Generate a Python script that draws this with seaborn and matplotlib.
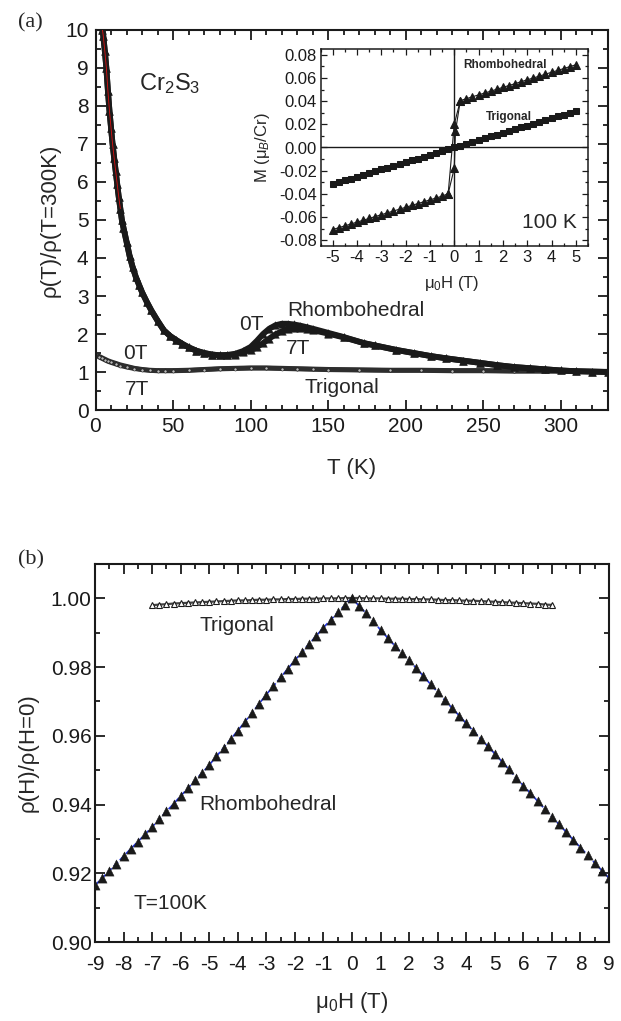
import numpy as np
import pandas as pd
import matplotlib
matplotlib.use("Agg")
import matplotlib.pyplot as plt
from matplotlib.ticker import MultipleLocator, FormatStrFormatter
import seaborn as sns

# ---------------- data ----------------
# (a) rho(T)/rho(300K), Rhombohedral
rh_T = [4.5, 5, 6, 7, 8, 9, 10, 11, 12, 13, 14, 15, 16, 17, 18, 20, 22, 24, 26, 28, 30,
        33, 36, 40, 44, 48, 52, 56, 60, 65, 70, 75, 80, 85, 90, 95, 100, 104, 108, 112,
        116, 120, 124, 128, 132, 136, 140, 150, 160, 173, 180, 194, 205, 216, 226, 237,
        248, 259, 270, 280, 290, 300, 310, 320, 330]
rh_0T = [10.0, 9.85, 9.45, 9.0, 8.4, 7.87, 7.43, 7.0, 6.64, 6.29, 5.94, 5.6, 5.3, 5.0,
         4.8, 4.43, 4.05, 3.75, 3.5, 3.3, 3.1, 2.85, 2.62, 2.35, 2.1, 1.95, 1.84, 1.74,
         1.65, 1.56, 1.5, 1.46, 1.44, 1.45, 1.48, 1.55, 1.66, 1.82, 2.0, 2.14, 2.23, 2.27,
         2.27, 2.25, 2.22, 2.18, 2.14, 2.03, 1.92, 1.76, 1.70, 1.58, 1.50, 1.42, 1.36,
         1.30, 1.24, 1.18, 1.13, 1.10, 1.07, 1.04, 1.02, 1.01, 1.00]
rh_7T = [10.0, 9.85, 9.45, 9.0, 8.4, 7.87, 7.43, 7.0, 6.64, 6.29, 5.94, 5.6, 5.3, 5.0,
         4.8, 4.43, 4.05, 3.75, 3.5, 3.3, 3.1, 2.85, 2.62, 2.35, 2.1, 1.95, 1.84, 1.74,
         1.65, 1.56, 1.5, 1.46, 1.44, 1.44, 1.46, 1.52, 1.58, 1.66, 1.76, 1.88, 1.99, 2.07,
         2.13, 2.15, 2.15, 2.13, 2.10, 2.01, 1.91, 1.76, 1.70, 1.58, 1.50, 1.42, 1.36,
         1.30, 1.24, 1.18, 1.13, 1.10, 1.07, 1.04, 1.02, 1.01, 1.00]
# (a) Trigonal
tg_T = [2, 4, 6, 8, 10, 13, 16, 20, 25, 30, 35, 40, 45, 50, 60, 70, 80, 90, 100, 110,
        120, 130, 140, 150, 170, 190, 210, 230, 250, 270, 290, 310, 330]
tg_0T = [1.42, 1.38, 1.34, 1.30, 1.27, 1.23, 1.19, 1.15, 1.10, 1.07, 1.05, 1.04, 1.04,
         1.04, 1.05, 1.07, 1.09, 1.10, 1.11, 1.11, 1.10, 1.09, 1.08, 1.07, 1.06, 1.05,
         1.05, 1.04, 1.04, 1.03, 1.03, 1.02, 1.02]
tg_7T = [1.40, 1.36, 1.32, 1.28, 1.25, 1.21, 1.17, 1.13, 1.09, 1.06, 1.04, 1.03, 1.03,
         1.03, 1.04, 1.06, 1.08, 1.09, 1.10, 1.10, 1.09, 1.08, 1.07, 1.06, 1.05, 1.04,
         1.04, 1.03, 1.03, 1.02, 1.02, 1.02, 1.01]

# inset: M(H) at 100 K
in_H_tg = [-5.0, -4.75, -4.5, -4.25, -4.0, -3.75, -3.5, -3.25, -3.0, -2.75, -2.5, -2.25,
           -2.0, -1.75, -1.5, -1.25, -1.0, -0.75, -0.5, -0.25, 0.0, 0.25, 0.5, 0.75, 1.0,
           1.25, 1.5, 1.75, 2.0, 2.25, 2.5, 2.75, 3.0, 3.25, 3.5, 3.75, 4.0, 4.25, 4.5,
           4.75, 5.0]
in_M_tg = [-0.0315, -0.0299, -0.0284, -0.0268, -0.0252, -0.0236, -0.0221, -0.0205,
           -0.0189, -0.0173, -0.0158, -0.0142, -0.0126, -0.0110, -0.0095, -0.0079,
           -0.0063, -0.0047, -0.0032, -0.0016, 0.0, 0.0016, 0.0032, 0.0047, 0.0063,
           0.0079, 0.0095, 0.0110, 0.0126, 0.0142, 0.0158, 0.0173, 0.0189, 0.0205,
           0.0221, 0.0236, 0.0252, 0.0268, 0.0284, 0.0299, 0.0315]
in_H_rh_up = [-5.0, -4.75, -4.5, -4.25, -4.0, -3.75, -3.5, -3.25, -3.0, -2.75, -2.5,
              -2.25, -2.0, -1.75, -1.5, -1.25, -1.0, -0.75, -0.5, -0.25, 0.0, 0.05, 0.25,
              0.5, 0.75, 1.0, 1.25, 1.5, 1.75, 2.0, 2.25, 2.5, 2.75, 3.0, 3.25, 3.5, 3.75,
              4.0, 4.25, 4.5, 4.75, 5.0]
in_M_rh_up = [-0.0708, -0.0692, -0.0676, -0.0660, -0.0644, -0.0628, -0.0612, -0.0596,
              -0.0580, -0.0564, -0.0548, -0.0532, -0.0516, -0.0500, -0.0484, -0.0468,
              -0.0452, -0.0436, -0.0420, -0.0398, -0.0180, 0.0140, 0.0405, 0.0421,
              0.0438, 0.0454, 0.0470, 0.0486, 0.0503, 0.0519, 0.0535, 0.0551, 0.0568,
              0.0584, 0.0600, 0.0616, 0.0633, 0.0649, 0.0665, 0.0681, 0.0698, 0.0714]
in_H_rh_dn = [0.25, 0.0, -0.25]
in_M_rh_dn = [0.0405, 0.0200, -0.0398]

# (b) rho(H)/rho(0) at 100 K
rb_H = [-9.0, -8.75, -8.5, -8.25, -8.0, -7.75, -7.5, -7.25, -7.0, -6.75, -6.5, -6.25,
        -6.0, -5.75, -5.5, -5.25, -5.0, -4.75, -4.5, -4.25, -4.0, -3.75, -3.5, -3.25,
        -3.0, -2.75, -2.5, -2.25, -2.0, -1.75, -1.5, -1.25, -1.0, -0.75, -0.5, -0.25,
        0.0, 0.25, 0.5, 0.75, 1.0, 1.25, 1.5, 1.75, 2.0, 2.25, 2.5, 2.75, 3.0, 3.25, 3.5,
        3.75, 4.0, 4.25, 4.5, 4.75, 5.0, 5.25, 5.5, 5.75, 6.0, 6.25, 6.5, 6.75, 7.0, 7.25,
        7.5, 7.75, 8.0, 8.25, 8.5, 8.75, 9.0]
rb_R = [0.9165, 0.9186, 0.9207, 0.9228, 0.9250, 0.9271, 0.9292, 0.9313, 0.9335, 0.9357,
        0.9380, 0.9402, 0.9425, 0.9447, 0.9470, 0.9492, 0.9515, 0.9540, 0.9565, 0.9590,
        0.9615, 0.9641, 0.9667, 0.9694, 0.9720, 0.9745, 0.9770, 0.9795, 0.9820, 0.9844,
        0.9868, 0.9891, 0.9915, 0.9937, 0.9959, 0.9980, 1.0000, 0.9978, 0.9956, 0.9933,
        0.9908, 0.9885, 0.9862, 0.9840, 0.9820, 0.9797, 0.9774, 0.9750, 0.9727, 0.9704,
        0.9681, 0.9659, 0.9636, 0.9614, 0.9592, 0.9570, 0.9548, 0.9525, 0.9502, 0.9478,
        0.9455, 0.9433, 0.9410, 0.9387, 0.9365, 0.9342, 0.9320, 0.9297, 0.9275, 0.9253,
        0.9230, 0.9208, 0.9186]
tb_H = [-7.0, -6.75, -6.5, -6.25, -6.0, -5.75, -5.5, -5.25, -5.0, -4.75, -4.5, -4.25,
        -4.0, -3.75, -3.5, -3.25, -3.0, -2.75, -2.5, -2.25, -2.0, -1.75, -1.5, -1.25,
        -1.0, -0.75, -0.5, -0.25, 0.0, 0.25, 0.5, 0.75, 1.0, 1.25, 1.5, 1.75, 2.0, 2.25,
        2.5, 2.75, 3.0, 3.25, 3.5, 3.75, 4.0, 4.25, 4.5, 4.75, 5.0, 5.25, 5.5, 5.75, 6.0,
        6.25, 6.5, 6.75, 7.0]
tb_R = [0.9980, 0.9982, 0.9983, 0.9985, 0.9986, 0.9987, 0.9988, 0.9989, 0.9990, 0.9991,
        0.9992, 0.9993, 0.9994, 0.9994, 0.9995, 0.9996, 0.9996, 0.9997, 0.9997, 0.9998,
        0.9998, 0.9999, 0.9999, 0.9999, 1.0000, 1.0000, 1.0000, 1.0001, 1.0001, 1.0001,
        1.0000, 1.0000, 1.0000, 0.9999, 0.9999, 0.9999, 0.9998, 0.9998, 0.9997, 0.9997,
        0.9996, 0.9995, 0.9995, 0.9994, 0.9993, 0.9993, 0.9992, 0.9991, 0.9990, 0.9989,
        0.9988, 0.9987, 0.9986, 0.9985, 0.9984, 0.9982, 0.9981]

# ---------------- style ----------------
sns.set_theme(style="ticks")
plt.rcParams["font.family"] = ["Liberation Sans", "DejaVu Sans"]
plt.rcParams["mathtext.fontset"] = "custom"
plt.rcParams["mathtext.rm"] = "Liberation Sans"
plt.rcParams["mathtext.it"] = "Liberation Sans:italic"
plt.rcParams["axes.linewidth"] = 1.5

W, H = 621, 1021
fig = plt.figure(figsize=(W / 100, H / 100), dpi=100)


def frac(l, r, t, b):
    return [l / W, 1 - b / H, (r - l) / W, (b - t) / H]


def style_ticks(ax, size, lmaj, lmin, width):
    ax.tick_params(which="both", direction="in", top=True, right=True,
                   labelsize=size, width=width, colors="k")
    ax.tick_params(which="major", length=lmaj)
    ax.tick_params(which="minor", length=lmin)
    for s in ax.spines.values():
        s.set_color("k")


# ---------------- panel (a) ----------------
ax1 = fig.add_axes(frac(95.5, 607.5, 30, 410))
d_rh = pd.DataFrame({"T": rh_T, "r0": rh_0T, "r7": rh_7T})
d_tg = pd.DataFrame({"T": tg_T, "r0": tg_0T, "r7": tg_7T})

for col in ["r0", "r7"]:
    sns.lineplot(data=d_tg, x="T", y=col, ax=ax1, color="#2e2e2e", lw=3.4,
                 estimator=None, sort=False, marker="o", markersize=2.2,
                 markerfacecolor="#bbbbbb", markeredgecolor="#222222",
                 markeredgewidth=0.4)
for col in ["r7", "r0"]:
    sns.lineplot(data=d_rh, x="T", y=col, ax=ax1, color="k", lw=4.2,
                 estimator=None, sort=False)
    sns.scatterplot(data=d_rh, x="T", y=col, ax=ax1, marker="^", s=30,
                    color="k", edgecolor="k", linewidth=0.3, zorder=3)
sns.lineplot(data=d_rh.iloc[:13], x="T", y="r0", ax=ax1, color="#dd1111", lw=0.6,
             estimator=None, sort=False, zorder=4)

ax1.set_xlim(0, 330)
ax1.set_ylim(0, 10)
ax1.xaxis.set_major_locator(MultipleLocator(50))
ax1.xaxis.set_minor_locator(MultipleLocator(10))
ax1.yaxis.set_major_locator(MultipleLocator(1))
ax1.yaxis.set_minor_locator(MultipleLocator(0.5))
style_ticks(ax1, 15, 7, 3.5, 1.3)
ax1.tick_params(axis="x", pad=5)
ax1.tick_params(axis="y", pad=5)
ax1.set_xlabel("T (K)", fontsize=16)
ax1.set_ylabel("ρ(T)/ρ(T=300K)", fontsize=16)
ax1.xaxis.label.set_verticalalignment("center")
ax1.yaxis.label.set_verticalalignment("center")
ax1.xaxis.set_label_coords(0.5, -0.153)
ax1.yaxis.set_label_coords(-0.089, 0.5)

ax1.text(48, 8.6, "Cr$_2$S$_3$", fontsize=17, ha="center", va="center")
ax1.text(167.6, 2.63, "Rhombohedral", fontsize=15, ha="center", va="center")
ax1.text(100.2, 2.24, "0T", fontsize=15, ha="center", va="center")
ax1.text(130.5, 1.62, "7T", fontsize=15, ha="center", va="center")
ax1.text(158.7, 0.58, "Trigonal", fontsize=15, ha="center", va="center")
ax1.text(26, 1.49, "0T", fontsize=15, ha="center", va="center")
ax1.text(26.6, 0.53, "7T", fontsize=15, ha="center", va="center")

# ---------------- inset ----------------
axi = fig.add_axes(frac(320.5, 588, 49, 246))
axi.axhline(0, color="k", lw=1.0, zorder=1)
axi.axvline(0, color="k", lw=1.0, zorder=1)
d_itg = pd.DataFrame({"H": in_H_tg, "M": in_M_tg})
d_iup = pd.DataFrame({"H": in_H_rh_up, "M": in_M_rh_up})
d_idn = pd.DataFrame({"H": in_H_rh_dn, "M": in_M_rh_dn})
sns.lineplot(data=d_itg, x="H", y="M", ax=axi, color="k", lw=0.8, estimator=None,
             sort=False, marker="s", markersize=5, markeredgecolor="k")
sns.lineplot(data=d_iup, x="H", y="M", ax=axi, color="k", lw=0.8, estimator=None,
             sort=False, marker="^", markersize=5.5, markeredgecolor="k")
sns.lineplot(data=d_idn, x="H", y="M", ax=axi, color="k", lw=0.8, estimator=None,
             sort=False, marker="^", markersize=5.5, markeredgecolor="k")
axi.set_xlim(-5.5, 5.5)
axi.set_ylim(-0.085, 0.085)
axi.xaxis.set_major_locator(MultipleLocator(1))
axi.xaxis.set_minor_locator(MultipleLocator(0.5))
axi.yaxis.set_major_locator(MultipleLocator(0.02))
axi.yaxis.set_minor_locator(MultipleLocator(0.01))
axi.yaxis.set_major_formatter(FormatStrFormatter("%.2f"))
axi.xaxis.set_major_formatter(FormatStrFormatter("%d"))
for s in axi.spines.values():
    s.set_linewidth(1.1)
style_ticks(axi, 12, 4, 2, 0.9)
axi.tick_params(axis="x", pad=3)
axi.tick_params(axis="y", pad=2.5)
axi.set_xlabel("μ$_0$H (T)", fontsize=12)
axi.set_ylabel("M (μ$_B$/Cr)", fontsize=12)
axi.xaxis.label.set_verticalalignment("center")
axi.yaxis.label.set_verticalalignment("center")
axi.xaxis.set_label_coords(0.49, -0.188)
axi.yaxis.set_label_coords(-0.215, 0.5)
axi.text(2.08, 0.071, "Rhombohedral", fontsize=8.5, fontweight="bold",
         ha="center", va="center")
axi.text(2.24, 0.0267, "Trigonal", fontsize=8.5, fontweight="bold",
         ha="center", va="center")
axi.text(3.93, -0.0646, "100 K", fontsize=15, ha="center", va="center")

# ---------------- panel (b) ----------------
ax2 = fig.add_axes(frac(95, 609, 564, 942))
d_rb = pd.DataFrame({"H": rb_H, "R": rb_R})
d_tb = pd.DataFrame({"H": tb_H, "R": tb_R})
sns.lineplot(data=d_tb, x="H", y="R", ax=ax2, color="#444444", lw=1.6,
             estimator=None, sort=False, marker="^", markersize=5,
             markerfacecolor="white", markeredgecolor="k", markeredgewidth=0.8)
sns.lineplot(data=d_rb, x="H", y="R", ax=ax2, color="#2233dd", lw=1.2,
             estimator=None, sort=False, linestyle="--")
sns.scatterplot(data=d_rb, x="H", y="R", ax=ax2, marker="^", s=44, color="k",
                edgecolor="k", linewidth=0.3, zorder=3)
ax2.set_xlim(-9, 9)
ax2.set_ylim(0.90, 1.01)
ax2.xaxis.set_major_locator(MultipleLocator(1))
ax2.xaxis.set_minor_locator(MultipleLocator(0.5))
ax2.yaxis.set_major_locator(MultipleLocator(0.02))
ax2.yaxis.set_minor_locator(MultipleLocator(0.01))
ax2.yaxis.set_major_formatter(FormatStrFormatter("%.2f"))
ax2.xaxis.set_major_formatter(FormatStrFormatter("%d"))
style_ticks(ax2, 15, 7, 3.5, 1.3)
ax2.tick_params(axis="x", pad=9)
ax2.tick_params(axis="y", pad=2.5)
ax2.set_xlabel("μ$_0$H (T)", fontsize=16)
ax2.set_ylabel("ρ(H)/ρ(H=0)", fontsize=16)
ax2.xaxis.label.set_verticalalignment("center")
ax2.yaxis.label.set_verticalalignment("center")
ax2.xaxis.set_label_coords(0.5, -0.161)
ax2.yaxis.set_label_coords(-0.130, 0.5)
ax2.text(-4.03, 0.9921, "Trigonal", fontsize=15, ha="center", va="center")
ax2.text(-2.95, 0.9401, "Rhombohedral", fontsize=15, ha="center", va="center")
ax2.text(-6.37, 0.9113, "T=100K", fontsize=15, ha="center", va="center")

# panel letters
fig.text(30 / W, 1 - 23 / H, "(a)", fontsize=16, family="Liberation Serif",
         ha="center", va="center")
fig.text(31 / W, 1 - 560 / H, "(b)", fontsize=16, family="Liberation Serif",
         ha="center", va="center")

fig.savefig("out.png", dpi=100)
